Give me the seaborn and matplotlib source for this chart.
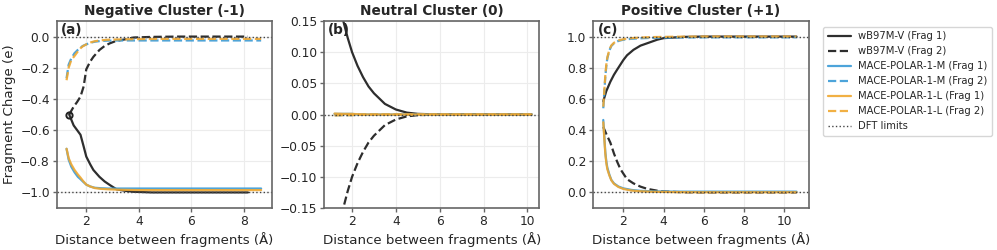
import numpy as np
import matplotlib
matplotlib.use("Agg")
import matplotlib.pyplot as plt
import seaborn as sns

# ---- panel (a): negative cluster ----
neg_x_dft = [1.35, 1.52, 1.65, 1.78, 1.9, 2.0, 2.15, 2.27, 2.5, 2.7, 2.9, 3.15, 3.5, 3.8, 4.5, 5.5, 6.5, 7.5, 8.15]
neg_dft_f1 = [-0.50, -0.57, -0.60, -0.63, -0.705, -0.77, -0.82, -0.856, -0.90, -0.93, -0.953, -0.98, -0.99, -0.996, -1.0, -1.0, -1.0, -1.0, -1.0]
neg_dft_f2 = [-0.50, -0.45, -0.42, -0.385, -0.32, -0.21, -0.16, -0.13, -0.086, -0.06, -0.043, -0.027, -0.017, -0.006, -0.002, 0.0, 0.0, 0.0, 0.0]

neg_x_mace = [1.25, 1.33, 1.43, 1.55, 1.68, 1.78, 1.87, 2.0, 2.15, 2.32, 2.55, 2.84, 3.3, 4.0, 5.0, 6.0, 7.0, 8.0, 8.65]
neg_m_f1 = [-0.72, -0.79, -0.835, -0.87, -0.90, -0.915, -0.93, -0.95, -0.962, -0.97, -0.973, -0.975, -0.975, -0.975, -0.975, -0.975, -0.975, -0.975, -0.975]
neg_m_f2 = [-0.267, -0.18, -0.14, -0.107, -0.085, -0.07, -0.06, -0.05, -0.04, -0.033, -0.028, -0.026, -0.025, -0.025, -0.025, -0.025, -0.025, -0.025, -0.025]
neg_l_f1 = [-0.72, -0.78, -0.82, -0.855, -0.885, -0.905, -0.925, -0.95, -0.962, -0.972, -0.977, -0.98, -0.983, -0.985, -0.985, -0.985, -0.985, -0.985, -0.985]
neg_l_f2 = [-0.28, -0.20, -0.15, -0.125, -0.095, -0.075, -0.062, -0.05, -0.038, -0.03, -0.024, -0.02, -0.018, -0.016, -0.015, -0.015, -0.015, -0.015, -0.015]

# ---- panel (b): neutral cluster ----
neu_x = [1.2, 1.4, 1.6, 1.8, 2.0, 2.25, 2.5, 2.75, 3.0, 3.5, 4.0, 4.5, 5.0, 6.0, 7.0, 8.0, 9.0, 10.2]
neu_dft_f1 = [0.24, 0.19, 0.15, 0.123, 0.10, 0.078, 0.06, 0.045, 0.034, 0.017, 0.008, 0.003, 0.001, 0.0, 0.0, 0.0, 0.0, 0.0]
neu_dft_f2 = [-0.24, -0.19, -0.15, -0.123, -0.10, -0.078, -0.06, -0.045, -0.034, -0.017, -0.008, -0.003, -0.001, 0.0, 0.0, 0.0, 0.0, 0.0]
neu_m_f1 = [0.001, 0.001, 0.001, 0.001, 0.001, 0.0, 0.0, 0.0, 0.0, 0.0, 0.0, 0.0, 0.0, 0.0, 0.0, 0.0, 0.0, 0.0]
neu_m_f2 = [-0.001, -0.001, -0.001, -0.001, -0.001, 0.0, 0.0, 0.0, 0.0, 0.0, 0.0, 0.0, 0.0, 0.0, 0.0, 0.0, 0.0, 0.0]
neu_l_f1 = [0.0015, 0.0012, 0.001, 0.001, 0.001, 0.0005, 0.0, 0.0, 0.0, 0.0, 0.0, 0.0, 0.0, 0.0, 0.0, 0.0, 0.0, 0.0]
neu_l_f2 = [-0.0015, -0.0012, -0.001, -0.001, -0.001, -0.0005, 0.0, 0.0, 0.0, 0.0, 0.0, 0.0, 0.0, 0.0, 0.0, 0.0, 0.0, 0.0]

# ---- panel (c): positive cluster ----
pos_x_dft = [1.0, 1.15, 1.35, 1.53, 1.68, 1.85, 2.0, 2.18, 2.5, 2.85, 3.18, 3.68, 4.0, 5.0, 6.0, 7.0, 8.0, 9.0, 10.6]
pos_dft_f1 = [0.585, 0.65, 0.71, 0.755, 0.786, 0.82, 0.85, 0.88, 0.915, 0.942, 0.957, 0.98, 0.99, 0.998, 1.0, 1.0, 1.0, 1.0, 1.0]
pos_dft_f2 = [0.42, 0.375, 0.32, 0.25, 0.20, 0.15, 0.12, 0.085, 0.058, 0.037, 0.023, 0.011, 0.006, 0.001, 0.0, 0.0, 0.0, 0.0, 0.0]

pos_x_mace = [1.0, 1.05, 1.1, 1.15, 1.2, 1.3, 1.4, 1.53, 1.75, 2.0, 2.4, 2.85, 3.5, 4.5, 6.0, 7.5, 9.0, 10.6]
pos_m_f1 = [0.465, 0.36, 0.26, 0.20, 0.16, 0.115, 0.08, 0.058, 0.038, 0.026, 0.016, 0.01, 0.007, 0.005, 0.005, 0.005, 0.005, 0.005]
pos_m_f2 = [0.54, 0.64, 0.74, 0.81, 0.86, 0.91, 0.94, 0.957, 0.972, 0.98, 0.986, 0.989, 0.992, 0.994, 0.995, 0.995, 0.995, 0.995]
pos_l_f1 = [0.45, 0.35, 0.25, 0.19, 0.15, 0.11, 0.078, 0.055, 0.035, 0.022, 0.012, 0.007, 0.004, 0.002, 0.001, 0.001, 0.001, 0.001]
pos_l_f2 = [0.55, 0.65, 0.75, 0.82, 0.865, 0.915, 0.943, 0.96, 0.975, 0.983, 0.99, 0.994, 0.997, 0.999, 1.0, 1.0, 1.0, 1.0]

titles = ["Negative Cluster (-1)", "Neutral Cluster (0)", "Positive Cluster (+1)"]
panel_tags = ["(a)", "(b)", "(c)"]

c_dft = "#222222"
c_m = "#3a9ad6"
c_l = "#f0a830"

sns.set_style("whitegrid", {
    "axes.edgecolor": "#666666",
    "grid.color": "#ececec",
    "xtick.bottom": True,
    "ytick.left": True,
})
plt.rcParams["font.family"] = ["DejaVu Sans"]

fig = plt.figure(figsize=(9.97, 2.5), dpi=100)
lefts = [0.057, 0.325, 0.595]
axes = [fig.add_axes([l, 0.168, 0.216, 0.748]) for l in lefts]

panels = [
    (neg_x_dft, neg_dft_f1, neg_dft_f2, neg_x_mace, neg_m_f1, neg_m_f2, neg_l_f1, neg_l_f2, [0.0, -1.0]),
    (neu_x, neu_dft_f1, neu_dft_f2, neu_x, neu_m_f1, neu_m_f2, neu_l_f1, neu_l_f2, [0.0]),
    (pos_x_dft, pos_dft_f1, pos_dft_f2, pos_x_mace, pos_m_f1, pos_m_f2, pos_l_f1, pos_l_f2, [0.0, 1.0]),
]

lw = 1.6
for i, (ax, p) in enumerate(zip(axes, panels)):
    xd, d1, d2, xm, m1, m2, l1, l2, limits = p
    sns.lineplot(x=xd, y=d1, ax=ax, color=c_dft, lw=lw, alpha=0.95, label="wB97M-V (Frag 1)", sort=False)
    sns.lineplot(x=xd, y=d2, ax=ax, color=c_dft, lw=lw, alpha=0.95, label="wB97M-V (Frag 2)", sort=False)
    ax.lines[-1].set_linestyle("--")
    sns.lineplot(x=xm, y=m1, ax=ax, color=c_m, lw=lw, alpha=0.9, label="MACE-POLAR-1-M (Frag 1)", sort=False)
    sns.lineplot(x=xm, y=m2, ax=ax, color=c_m, lw=lw, alpha=0.9, label="MACE-POLAR-1-M (Frag 2)", sort=False)
    ax.lines[-1].set_linestyle("--")
    sns.lineplot(x=xm, y=l1, ax=ax, color=c_l, lw=lw, alpha=0.9, label="MACE-POLAR-1-L (Frag 1)", sort=False)
    sns.lineplot(x=xm, y=l2, ax=ax, color=c_l, lw=lw, alpha=0.9, label="MACE-POLAR-1-L (Frag 2)", sort=False)
    ax.lines[-1].set_linestyle("--")
    if i == 0:
        # small loop where both DFT fragments meet at short range
        ax.plot(xd[0], d1[0], marker="o", ms=4.5, mfc="none", mec=c_dft, mew=1.4, ls="none")
    for j, v in enumerate(limits):
        ax.axhline(v, color="#444444", lw=1.0, ls=":", label="DFT limits" if j == 0 else None)

    ax.set_title(titles[i], fontsize=9.8, fontweight="bold", pad=4)
    ax.set_xlabel("Distance between fragments (Å)", fontsize=9.6, labelpad=3)
    ax.text(0.02, 0.99, panel_tags[i], transform=ax.transAxes, fontsize=9.8,
            fontweight="bold", va="top", ha="left")
    ax.tick_params(labelsize=8.8, length=3, width=1, color="#666666", pad=2)
    ax.get_legend().remove()
    for s in ax.spines.values():
        s.set_linewidth(1.2)

axes[0].set_ylim(-1.1, 0.1)
axes[0].set_yticks([-1.0, -0.8, -0.6, -0.4, -0.2, 0.0])
axes[0].set_xlim(0.88, 9.07)
axes[0].set_xticks([2, 4, 6, 8])
axes[0].set_ylabel("Fragment Charge (e)", fontsize=9.6, labelpad=3)
axes[1].set_ylim(-0.15, 0.15)
axes[1].set_xlim(0.72, 10.55)
axes[1].set_xticks([2, 4, 6, 8, 10])
axes[2].set_ylim(-0.1, 1.1)
axes[2].set_yticks([0.0, 0.2, 0.4, 0.6, 0.8, 1.0])
axes[2].set_xlim(0.5, 11.2)
axes[2].set_xticks([2, 4, 6, 8, 10])

handles, labels = axes[2].get_legend_handles_labels()
axes[2].legend(handles, labels, loc="upper left", bbox_to_anchor=(1.045, 0.995),
               fontsize=7.2, frameon=True, handlelength=2.3, handletextpad=0.7,
               borderpad=0.45, labelspacing=0.5, edgecolor="#cccccc", fancybox=True)

fig.savefig("out.png", dpi=100)
